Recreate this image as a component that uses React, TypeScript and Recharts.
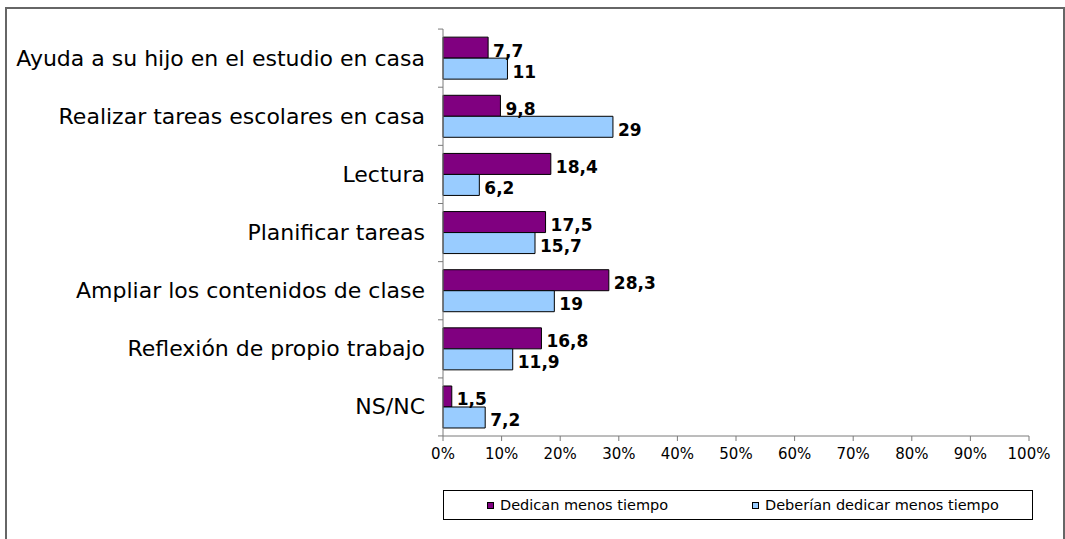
import React from 'react';
import { BarChart, Bar, XAxis, YAxis, LabelList, Legend } from 'recharts';

const categories = [
  'Ayuda a su hijo en el estudio en casa',
  'Realizar tareas escolares en casa',
  'Lectura',
  'Planificar tareas',
  'Ampliar los contenidos de clase',
  'Reflexión de propio trabajo',
  'NS/NC',
];
const dedicanMenos = [7.7, 9.8, 18.4, 17.5, 28.3, 16.8, 1.5];
const deberianDedicarMenos = [11, 29, 6.2, 15.7, 19, 11.9, 7.2];
const xTicks = [0, 10, 20, 30, 40, 50, 60, 70, 80, 90, 100];
const seriesNames = ['Dedican menos tiempo', 'Deberían dedicar menos tiempo'];
const colors = ['#800080', '#99CCFF'];

const data = categories.map((c, i) => ({
  name: c,
  a: dedicanMenos[i],
  b: deberianDedicarMenos[i],
}));

const FONT = 'Verdana, "DejaVu Sans", sans-serif';
const AXIS = '#7a7a7a';
const fmt = (v: number) => String(v).replace('.', ',');

const CatTick = (props: any) => {
  const { x, y, payload, index } = props;
  const band = 58;
  const ax = x + 8;
  return (
    <g>
      <text x={x - 10} y={y} textAnchor="end" dominantBaseline="central" fontSize={22} fontFamily={FONT} fill="#000">
        {payload.value}
      </text>
      <line x1={ax - 5} x2={ax} y1={y - band / 2} y2={y - band / 2} stroke={AXIS} />
      {index === categories.length - 1 ? (
        <line x1={ax - 5} x2={ax} y1={y + band / 2} y2={y + band / 2} stroke={AXIS} />
      ) : null}
    </g>
  );
};

const renderLabel = (props: any) => {
  const { x, y, width, height, value } = props;
  return (
    <text x={x + width + 5} y={y + height / 2 + 3} dominantBaseline="central" fontSize={17} fontWeight="bold" fontFamily={FONT} fill="#000">
      {fmt(value)}
    </text>
  );
};

const renderLegend = () => (
  <div style={{ width: 588, height: 28, border: '1px solid #000', boxSizing: 'content-box', position: 'relative', fontFamily: FONT, fontSize: 14.5, background: '#fff' }}>
    {seriesNames.map((n, i) => (
      <div key={n} style={{ position: 'absolute', left: i === 0 ? 43 : 308, top: 0, height: 28, display: 'flex', alignItems: 'center' }}>
        <span style={{ display: 'inline-block', width: 5, height: 5, background: colors[i], border: '1px solid #000', marginRight: 6 }} />
        <span style={{ color: '#000' }}>{n}</span>
      </div>
    ))}
  </div>
);

export default function App() {
  return (
    <div style={{ position: 'absolute', left: 0, top: 0, width: 1065, height: 539, overflow: 'hidden', background: '#fff' }}>
      <div style={{ position: 'absolute', left: 5, top: 7, width: 1056, height: 600, border: '2px solid #666' }} />
      <div style={{ position: 'absolute', left: 0, top: 0 }}>
        <BarChart
          width={1065}
          height={539}
          data={data}
          layout="vertical"
          margin={{ top: 29, right: 36, left: 0, bottom: 43 }}
          barCategoryGap="14%"
          barGap={0}
        >
          <XAxis
            type="number"
            domain={[0, 100]}
            ticks={xTicks}
            interval={0}
            tickFormatter={(v: number) => `${v}%`}
            stroke={AXIS}
            tickSize={5}
            tickMargin={7}
            tick={{ fill: '#000', fontSize: 15, fontFamily: FONT }}
            height={30}
          />
          <YAxis
            type="category"
            dataKey="name"
            width={443}
            stroke={AXIS}
            tickLine={false}
            tick={<CatTick />}
            interval={0}
          />
          <Legend content={renderLegend} wrapperStyle={{ position: 'absolute', left: 443, top: 490, width: 590, height: 30 }} />
          <Bar dataKey="a" name={seriesNames[0]} fill={colors[0]} stroke="#000" strokeWidth={1} isAnimationActive={false}>
            <LabelList dataKey="a" content={renderLabel} />
          </Bar>
          <Bar dataKey="b" name={seriesNames[1]} fill={colors[1]} stroke="#000" strokeWidth={1} isAnimationActive={false}>
            <LabelList dataKey="b" content={renderLabel} />
          </Bar>
        </BarChart>
      </div>
    </div>
  );
}
